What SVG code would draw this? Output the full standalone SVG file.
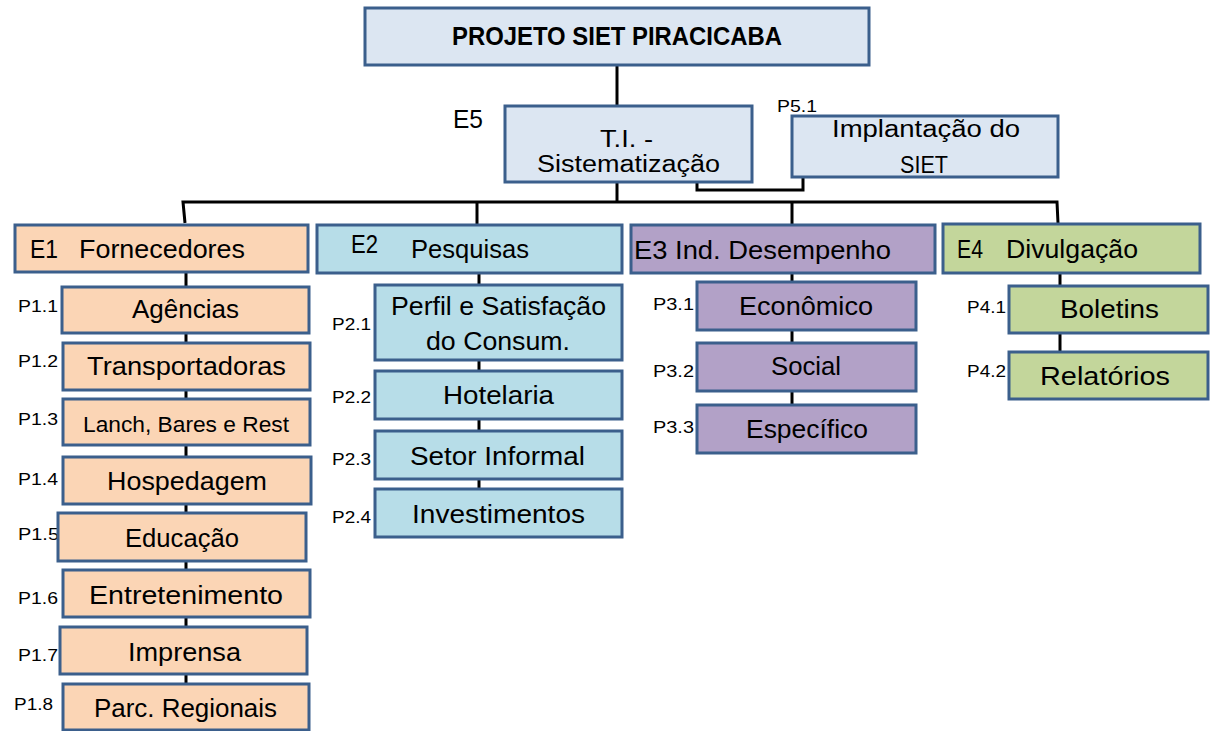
<svg xmlns="http://www.w3.org/2000/svg" width="1213" height="731" viewBox="0 0 1213 731">
<style>
.box{stroke:#3b5f8c;stroke-width:3}
.blue{fill:#dce6f2}
.or{fill:#fbd5b5}
.cy{fill:#b7dde8}
.pu{fill:#b2a1c7}
.gr{fill:#c3d69b}
text{font-family:"Liberation Sans",Arial,sans-serif;fill:#000}
.m{font-size:26px}
.s{font-size:23px}
.l{font-size:22px}
.p{font-size:17px}
.c{fill:none;stroke:#000;stroke-width:3}
</style>
<rect width="1213" height="731" fill="#fff"/>
<g id="connectors" class="c">
<path d="M617,65 V106"/>
<path d="M617,182 V202"/>
<path d="M697,182 V190 H803 V177"/>
<path d="M185,223 L183,202 H1057 L1058,223"/>
<path d="M477,202 V225"/>
<path d="M792,202 V225"/>
<path d="M186,272 V684"/>
<path d="M479,273 V489"/>
<path d="M792,273 V405"/>
<path d="M1060,273 V352"/>
</g>
<g id="root"><rect class="box blue" x="365" y="8" width="504" height="57"/><text x="452" y="45" font-size="25" font-weight="bold" textLength="330" lengthAdjust="spacingAndGlyphs">PROJETO SIET PIRACICABA</text></g>
<g id="e5"><text x="453" y="128" font-size="26" textLength="30" lengthAdjust="spacingAndGlyphs">E5</text><rect class="box blue" x="505" y="106" width="247" height="76"/><text class="s" x="600" y="147" textLength="53" lengthAdjust="spacingAndGlyphs">T.I. -</text><text class="s" x="537" y="172" textLength="183" lengthAdjust="spacingAndGlyphs">Sistematização</text></g>
<g id="p51"><text x="777" y="112" font-size="17" textLength="40" lengthAdjust="spacingAndGlyphs">P5.1</text><rect class="box blue" x="792" y="116" width="266" height="61"/><text class="s" x="832" y="137" textLength="188" lengthAdjust="spacingAndGlyphs">Implantação do</text><text class="s" x="900" y="173" textLength="48" lengthAdjust="spacingAndGlyphs">SIET</text></g>
<g id="e1"><rect class="box or" x="15" y="225" width="293" height="47"/><text class="m" x="30" y="258" textLength="28" lengthAdjust="spacingAndGlyphs">E1</text><text class="m" x="79" y="258" textLength="166" lengthAdjust="spacingAndGlyphs">Fornecedores</text></g>
<g id="e2"><rect class="box cy" x="317" y="225" width="305" height="48"/><text class="m" x="351" y="253" textLength="27" lengthAdjust="spacingAndGlyphs">E2</text><text class="m" x="411" y="258" textLength="118" lengthAdjust="spacingAndGlyphs">Pesquisas</text></g>
<g id="e3"><rect class="box pu" x="631" y="225" width="304" height="48"/><text class="m" x="634" y="259" textLength="257" lengthAdjust="spacingAndGlyphs">E3 Ind. Desempenho</text></g>
<g id="e4"><rect class="box gr" x="943" y="224" width="257" height="49"/><text class="m" x="957" y="258" textLength="26" lengthAdjust="spacingAndGlyphs">E4</text><text class="m" x="1006" y="258" textLength="132" lengthAdjust="spacingAndGlyphs">Divulgação</text></g>
<g id="p11"><text class="p" x="18" y="312" textLength="40" lengthAdjust="spacingAndGlyphs">P1.1</text><rect class="box or" x="62" y="287" width="247" height="46"/><text class="m" x="132" y="318" textLength="107" lengthAdjust="spacingAndGlyphs">Agências</text></g>
<g id="p12"><text class="p" x="18" y="367" textLength="40" lengthAdjust="spacingAndGlyphs">P1.2</text><rect class="box or" x="63" y="343" width="247" height="47"/><text class="m" x="87" y="375" textLength="199" lengthAdjust="spacingAndGlyphs">Transportadoras</text></g>
<g id="p13"><text class="p" x="18" y="425" textLength="40" lengthAdjust="spacingAndGlyphs">P1.3</text><rect class="box or" x="63" y="399" width="247" height="46"/><text class="l" x="83" y="432" textLength="206" lengthAdjust="spacingAndGlyphs">Lanch, Bares e Rest</text></g>
<g id="p14"><text class="p" x="18" y="485" textLength="40" lengthAdjust="spacingAndGlyphs">P1.4</text><rect class="box or" x="63" y="457" width="248" height="47"/><text class="m" x="107" y="490" textLength="160" lengthAdjust="spacingAndGlyphs">Hospedagem</text></g>
<g id="p15"><text class="p" x="18" y="540" textLength="41" lengthAdjust="spacingAndGlyphs">P1.5</text><rect class="box or" x="58" y="513" width="248" height="48"/><text class="m" x="125" y="547" textLength="114" lengthAdjust="spacingAndGlyphs">Educação</text></g>
<g id="p16"><text class="p" x="18" y="604" textLength="40" lengthAdjust="spacingAndGlyphs">P1.6</text><rect class="box or" x="63" y="570" width="247" height="47"/><text class="m" x="89" y="604" textLength="194" lengthAdjust="spacingAndGlyphs">Entretenimento</text></g>
<g id="p17"><text class="p" x="18" y="661" textLength="40" lengthAdjust="spacingAndGlyphs">P1.7</text><rect class="box or" x="60" y="627" width="247" height="47"/><text class="m" x="128" y="661" textLength="113" lengthAdjust="spacingAndGlyphs">Imprensa</text></g>
<g id="p18"><text class="p" x="14" y="710" textLength="39" lengthAdjust="spacingAndGlyphs">P1.8</text><rect class="box or" x="63" y="684" width="246" height="46"/><text class="m" x="94" y="717" textLength="183" lengthAdjust="spacingAndGlyphs">Parc. Regionais</text></g>
<g id="p21"><text class="p" x="332" y="330" textLength="39" lengthAdjust="spacingAndGlyphs">P2.1</text><rect class="box cy" x="375" y="285" width="247" height="75"/><text class="m" x="391" y="315" textLength="215" lengthAdjust="spacingAndGlyphs">Perfil e Satisfação</text><text class="m" x="426" y="350" textLength="144" lengthAdjust="spacingAndGlyphs">do Consum.</text></g>
<g id="p22"><text class="p" x="332" y="403" textLength="39" lengthAdjust="spacingAndGlyphs">P2.2</text><rect class="box cy" x="375" y="371" width="247" height="48"/><text class="m" x="443" y="404" textLength="111" lengthAdjust="spacingAndGlyphs">Hotelaria</text></g>
<g id="p23"><text class="p" x="332" y="465" textLength="39" lengthAdjust="spacingAndGlyphs">P2.3</text><rect class="box cy" x="375" y="431" width="247" height="48"/><text class="m" x="410" y="465" textLength="175" lengthAdjust="spacingAndGlyphs">Setor Informal</text></g>
<g id="p24"><text class="p" x="332" y="523" textLength="39" lengthAdjust="spacingAndGlyphs">P2.4</text><rect class="box cy" x="375" y="489" width="247" height="48"/><text class="m" x="412" y="523" textLength="173" lengthAdjust="spacingAndGlyphs">Investimentos</text></g>
<g id="p31"><text class="p" x="653" y="310" textLength="41" lengthAdjust="spacingAndGlyphs">P3.1</text><rect class="box pu" x="697" y="282" width="219" height="48"/><text class="m" x="739" y="315" textLength="134" lengthAdjust="spacingAndGlyphs">Econômico</text></g>
<g id="p32"><text class="p" x="653" y="377" textLength="41" lengthAdjust="spacingAndGlyphs">P3.2</text><rect class="box pu" x="697" y="343" width="219" height="48"/><text class="m" x="771" y="375" textLength="70" lengthAdjust="spacingAndGlyphs">Social</text></g>
<g id="p33"><text class="p" x="653" y="433" textLength="41" lengthAdjust="spacingAndGlyphs">P3.3</text><rect class="box pu" x="697" y="405" width="219" height="48"/><text class="m" x="746" y="438" textLength="122" lengthAdjust="spacingAndGlyphs">Específico</text></g>
<g id="p41"><text class="p" x="967" y="313" textLength="39" lengthAdjust="spacingAndGlyphs">P4.1</text><rect class="box gr" x="1009" y="286" width="199" height="47"/><text class="m" x="1060" y="318" textLength="99" lengthAdjust="spacingAndGlyphs">Boletins</text></g>
<g id="p42"><text class="p" x="967" y="377" textLength="39" lengthAdjust="spacingAndGlyphs">P4.2</text><rect class="box gr" x="1009" y="352" width="199" height="47"/><text class="m" x="1040" y="385" textLength="130" lengthAdjust="spacingAndGlyphs">Relatórios</text></g>
</svg>
